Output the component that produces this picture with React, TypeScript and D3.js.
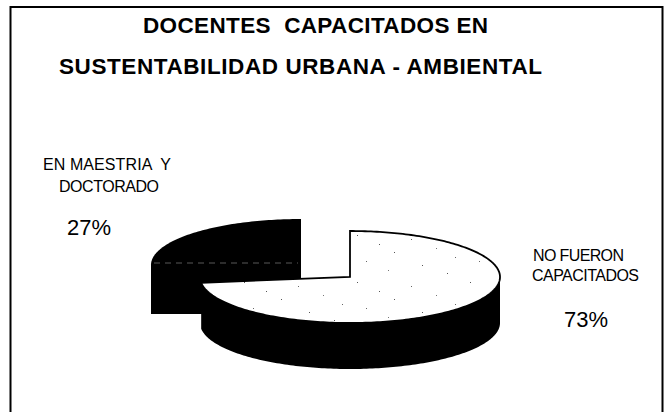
import * as d3 from "d3";

const titleLines = ["DOCENTES  CAPACITADOS EN", "SUSTENTABILIDAD URBANA - AMBIENTAL"];
const categories = ["NO FUERON CAPACITADOS", "EN MAESTRIA Y DOCTORADO"];
const values = [73, 27];
const percentLabels = ["73%", "27%"];

const width = 670;
const height = 412;
const rx = 150;
const ry = 46;
const depth = 46;
const cx = 350;
const cy = 277;
const explodeX = -49;
const explodeY = -12;

const pie = d3.pie<number>().sort(null)(values);

const px = (a: number) => rx * Math.sin(a);
const py = (a: number) => -ry * Math.cos(a);
const rim = (start: number, end: number) => d3.range(start, end, 0.02).concat([end]);

// top of a slice on the squashed ellipse
function topPath(start: number, end: number) {
    const pts = rim(start, end).map(a => [px(a), py(a)] as [number, number]);
    return d3.line()([[0, 0], ...pts]) + "Z";
}

// visible wall = part of the rim facing down (90deg..270deg clockwise from top)
function wallPath(start: number, end: number) {
    const a0 = Math.max(start, Math.PI / 2);
    const a1 = Math.min(end, Math.PI * 1.5);
    if (a1 <= a0) return "";
    const angles = rim(a0, a1);
    const upper = angles.map(a => [px(a), py(a)] as [number, number]);
    const lower = angles.slice().reverse().map(a => [px(a), py(a) + depth] as [number, number]);
    return d3.line()([...upper, ...lower]) + "Z";
}

export default function App() {
    const [big, small] = pie;
    return (
        <svg
            width={width}
            height={height}
            viewBox={`0 0 ${width} ${height}`}
            style={{ position: "absolute", left: 0, top: 0, background: "#fff", fontFamily: "'Liberation Sans', Arial, sans-serif" }}
        >
            <defs>
                {/* scanner noise on the white face */}
                <pattern id="speck" width="113" height="47" patternUnits="userSpaceOnUse">
                    <rect width="113" height="47" fill="#fff" />
                    <rect x="7" y="5" width="1" height="1" fill="#555" />
                    <rect x="16" y="31" width="1" height="1" fill="#666" />
                    <rect x="29" y="14" width="1" height="1" fill="#555" />
                    <rect x="38" y="40" width="1" height="1" fill="#777" />
                    <rect x="44" y="22" width="1" height="1" fill="#555" />
                    <rect x="61" y="9" width="1" height="1" fill="#666" />
                    <rect x="72" y="35" width="1" height="1" fill="#555" />
                    <rect x="86" y="18" width="1" height="1" fill="#777" />
                    <rect x="97" y="43" width="1" height="1" fill="#555" />
                    <rect x="105" y="27" width="1" height="1" fill="#666" />
                </pattern>
            </defs>

            <rect x={10.5} y={7} width={652} height={420} fill="none" stroke="#000" strokeWidth={2} />

            <g fontWeight="bold" fontSize={22.5} fill="#000">
                <text x={143} y={33} xmlSpace="preserve" textLength={345}>{titleLines[0]}</text>
                <text x={59} y={74} xmlSpace="preserve" textLength={483}>{titleLines[1]}</text>
            </g>

            {/* exploded small slice, all black */}
            <g transform={`translate(${cx + explodeX},${cy + explodeY})`} aria-label={categories[1]}>
                <path d={topPath(small.startAngle, small.endAngle)} fill="#000" />
                <rect x={px(Math.PI * 1.5)} y={py(Math.PI * 1.5)} width={rx} height={depth + 3} fill="#000" />
                <line x1={-rx + 3} x2={-3} y1={-2} y2={-2} stroke="#fff" strokeWidth={0.7} strokeDasharray="6 5" opacity={0.5} />
            </g>

            {/* big slice */}
            <g transform={`translate(${cx},${cy})`} aria-label={categories[0]}>
                <path d={wallPath(big.startAngle, big.endAngle)} fill="#000" />
                <path d={topPath(big.startAngle, big.endAngle)} fill="url(#speck)" stroke="#000" strokeWidth={1.8} />
            </g>

            <g fontSize={16} fill="#000">
                <text x={43} y={170} xmlSpace="preserve" textLength={128}>EN MAESTRIA  Y</text>
                <text x={59} y={192} textLength={100}>DOCTORADO</text>
                <text x={533} y={261} textLength={91}>NO FUERON</text>
                <text x={532} y={281} textLength={107}>CAPACITADOS</text>
            </g>
            <g fontSize={22} fill="#000">
                <text x={67} y={235}>{percentLabels[1]}</text>
                <text x={564} y={327}>{percentLabels[0]}</text>
            </g>
        </svg>
    );
}
